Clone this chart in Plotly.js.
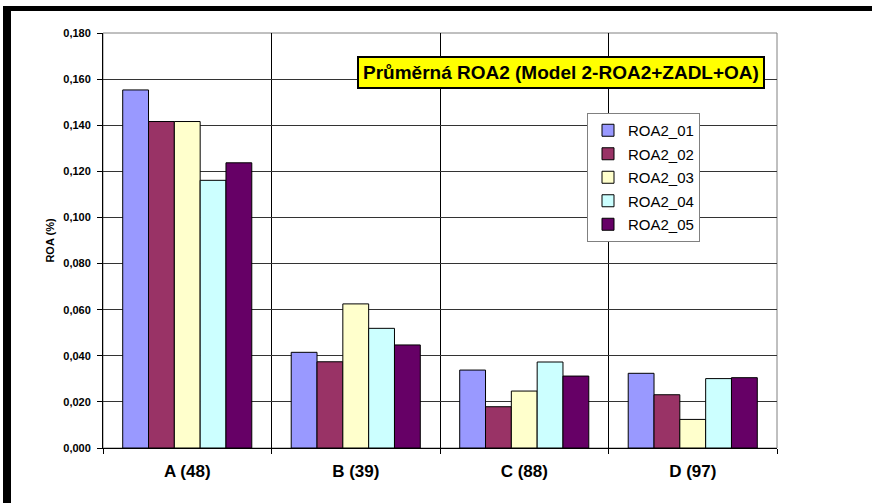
<!DOCTYPE html>
<html>
<head>
<meta charset="utf-8">
<script src="https://cdn.plot.ly/plotly-3.0.1.min.js"></script>
<style>html,body{margin:0;padding:0;background:#fff;}#chart{width:872px;height:503px;}</style>
</head>
<body>
<div id="chart"></div>
<script>
const categories = ["A (48)", "B (39)", "C (88)", "D (97)"];
const seriesNames = ["ROA2_01", "ROA2_02", "ROA2_03", "ROA2_04", "ROA2_05"];
const roa2_01 = [0.1553, 0.0415, 0.0338, 0.0324];
const roa2_02 = [0.1416, 0.0374, 0.0179, 0.0231];
const roa2_03 = [0.1416, 0.0625, 0.0247, 0.0124];
const roa2_04 = [0.1161, 0.0519, 0.0373, 0.0301];
const roa2_05 = [0.1237, 0.0447, 0.0312, 0.0305];
const seriesValues = [roa2_01, roa2_02, roa2_03, roa2_04, roa2_05];
const colors = ["#9999FF", "#993366", "#FFFFCC", "#CCFFFF", "#660066"];
const chartTitle = "Průměrná ROA2 (Model 2-ROA2+ZADL+OA)";
const yTitle = "ROA (%)";

const FONT = "Liberation Sans, Arial, sans-serif";

const traces = seriesNames.map((name, i) => ({
  type: "bar",
  name: name,
  x: categories,
  y: seriesValues[i],
  legendgroup: name,
  marker: { color: colors[i], line: { color: "#000000", width: 1 } },
  hoverinfo: "skip"
}));

// plot area in pixels: x 103..777, y 33..448
const L = 103, R = 777, T = 33, B = 448;
const W = R - L, H = B - T;
const px = v => (v - L) / W;
const py = v => (B - v) / H;

const layout = {
  width: 872,
  height: 503,
  margin: { l: L, r: 872 - R, t: T, b: 503 - B, pad: 0 },
  paper_bgcolor: "#ffffff",
  plot_bgcolor: "#ffffff",
  separators: ", ",
  font: { family: FONT, color: "#000000" },
  barmode: "group",
  bargap: 0.234,
  bargroupgap: 0,
  showlegend: true,
  legend: {
    x: px(587), y: py(113), xanchor: "left", yanchor: "top",
    bgcolor: "#ffffff", bordercolor: "#808080", borderwidth: 1,
    font: { family: FONT, size: 15, color: "#000000" },
    traceorder: "grouped", tracegroupgap: 1,
    itemwidth: 30
  },
  xaxis: {
    type: "category",
    tickson: "boundaries",
    showgrid: true, gridcolor: "#000000", gridwidth: 1,
    showline: true, linecolor: "#000000", linewidth: 1,
    ticks: "outside", ticklen: 5, tickcolor: "#000000",
    ticklabelstandoff: 8,
    tickfont: { family: FONT, size: 17, color: "#000000", weight: "bold" },
    zeroline: false
  },
  yaxis: {
    range: [0, 0.18], dtick: 0.02, tick0: 0,
    tickformat: ".3f",
    showgrid: true, gridcolor: "#333333", gridwidth: 1,
    showline: true, linecolor: "#000000", linewidth: 1,
    ticks: "outside", ticklen: 5, tickcolor: "#000000",
    ticklabelstandoff: 4,
    tickfont: { family: FONT, size: 11, color: "#000000", weight: "bold" },
    zeroline: false,
    title: { text: yTitle, standoff: 6, font: { family: FONT, size: 11, color: "#000000", weight: "bold" } }
  },
  annotations: [{
    xref: "paper", yref: "paper",
    x: px(561), y: py(72), xanchor: "center", yanchor: "middle",
    text: "<b>" + chartTitle + "</b>",
    showarrow: false,
    font: { family: FONT, size: 19, color: "#000000" },
    bgcolor: "#FFFF00", bordercolor: "#000000", borderwidth: 2, borderpad: 4
  }],
  shapes: [
    { type: "rect", xref: "paper", yref: "paper", x0: 0, x1: 1, y0: 0, y1: 1,
      line: { color: "#808080", width: 1 }, fillcolor: "rgba(0,0,0,0)", layer: "below" },
    { type: "rect", xref: "paper", yref: "paper", x0: px(3), x1: px(11), y0: py(503), y1: py(6),
      line: { width: 0 }, fillcolor: "#000000" },
    { type: "rect", xref: "paper", yref: "paper", x0: px(3), x1: px(872), y0: py(11), y1: py(6),
      line: { width: 0 }, fillcolor: "#000000" }
  ]
};

Plotly.newPlot("chart", traces, layout, { displayModeBar: false, staticPlot: true });
</script>
</body>
</html>
